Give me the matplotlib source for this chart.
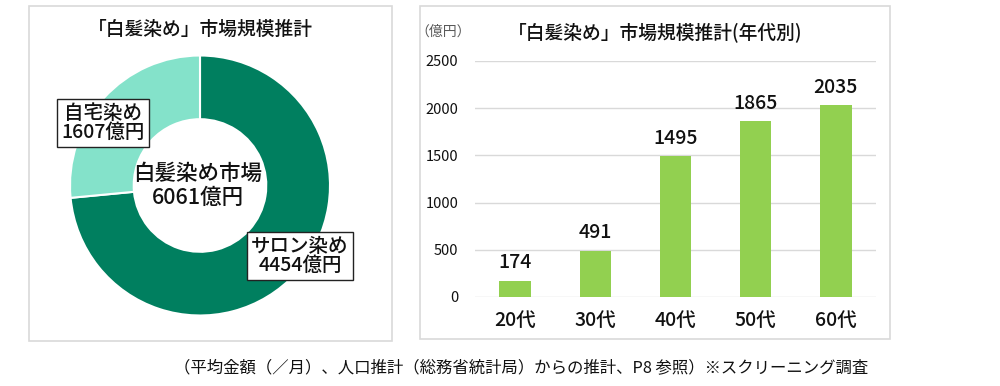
"""「白髪染め」市場規模推計：ドーナツ図と年代別棒グラフ。"""
import matplotlib

matplotlib.use("Agg")
import matplotlib.pyplot as plt  # noqa: E402
from matplotlib.patches import Rectangle  # noqa: E402

plt.rcParams["font.family"] = ["Noto Sans CJK JP", "DejaVu Sans"]

# データ
SEGMENTS = ["サロン染め", "自宅染め"]
SEGMENT_VALUES = [4454, 1607]
TOTAL = 6061
AGES = ["20代", "30代", "40代", "50代", "60代"]
AGE_VALUES = [174, 491, 1495, 1865, 2035]
Y_TICKS = [0, 500, 1000, 1500, 2000, 2500]

# 配色
DARK = "#007F5F"
LIGHT = "#84E2CA"
BAR = "#92D050"
GRID = "#D9D9D9"
TEXT = "#111111"
MUTED = "#595959"

W, H = 1000, 386
fig = plt.figure(figsize=(W / 100, H / 100), dpi=100)


def px(x, y):
    """ピクセル座標（左上原点）を figure 座標へ。"""
    return x / W, 1 - y / H


# パネル枠
for x0, y0, x1, y1 in [(29, 6, 392, 341), (420, 6, 890, 339)]:
    fig.patches.append(Rectangle((x0 / W, 1 - y1 / H), (x1 - x0) / W, (y1 - y0) / H,
                                 transform=fig.transFigure, fill=False,
                                 edgecolor=GRID, linewidth=1.2))

# --- ドーナツ図 ---
cx, cy, r = 200, 185.5, 130
ax1 = fig.add_axes([(cx - r) / W, 1 - (cy + r) / H, 2 * r / W, 2 * r / H])
ax1.pie(SEGMENT_VALUES, colors=[DARK, LIGHT], startangle=90, counterclock=False,
        radius=1, wedgeprops=dict(width=0.49, edgecolor="white", linewidth=1.5))
ax1.set_xlim(-1, 1)
ax1.set_ylim(-1, 1)
ax1.set_aspect("equal")
ax1.axis("off")

fig.text(*px(200, 29), "「白髪染め」市場規模推計", ha="center", va="center",
         fontsize=13.5, color=TEXT, fontweight="medium")
fig.text(*px(198, 186), f"白髪染め市場\n{TOTAL}億円", ha="center", va="center",
         fontsize=15.5, color=TEXT, linespacing=1.1, fontweight="medium")
box = dict(boxstyle="square,pad=0.22", facecolor="white", edgecolor="#222222", linewidth=1)
fig.text(*px(103, 123), f"{SEGMENTS[1]}\n{SEGMENT_VALUES[1]}億円", ha="center", va="center",
         fontsize=14, color=TEXT, linespacing=1.05, bbox=box, fontweight="medium")
fig.text(*px(300, 256), f"{SEGMENTS[0]}\n{SEGMENT_VALUES[0]}億円", ha="center", va="center",
         fontsize=14, color=TEXT, linespacing=1.05, bbox=box, fontweight="medium")

# --- 年代別棒グラフ ---
ax2 = fig.add_axes([475 / W, 1 - 297 / H, 401 / W, 236 / H])
bars = ax2.bar(AGES, AGE_VALUES, width=0.39, color=BAR, zorder=3)
ax2.bar_label(bars, labels=[str(v) for v in AGE_VALUES], padding=6,
              fontsize=14, color=TEXT, fontweight="medium")
ax2.set_ylim(0, 2500)
ax2.set_xlim(-0.5, len(AGES) - 0.5)
ax2.set_yticks(Y_TICKS)
ax2.grid(axis="y", color=GRID, linewidth=1, zorder=0)
ax2.set_axisbelow(True)
for s in ax2.spines.values():
    s.set_visible(False)
ax2.tick_params(axis="y", length=0, pad=12, labelsize=10.5, labelcolor=TEXT)
ax2.tick_params(axis="x", length=0, pad=10, labelsize=14, labelcolor=TEXT)
for lbl in ax2.get_xticklabels():
    lbl.set_fontweight("medium")

fig.text(*px(443, 32), "（億円）", ha="center", va="center", fontsize=10, color=MUTED)
fig.text(*px(655, 32), "「白髪染め」市場規模推計(年代別)", ha="center", va="center",
         fontsize=13.5, color=TEXT, fontweight="medium")

# 注記
fig.text(*px(521, 368),
         "（平均金額（／月）、人口推計（総務省統計局）からの推計、P8 参照）※スクリーニング調査",
         ha="center", va="center", fontsize=11.8, color=TEXT)

fig.savefig("out.png", dpi=100, facecolor="white")
